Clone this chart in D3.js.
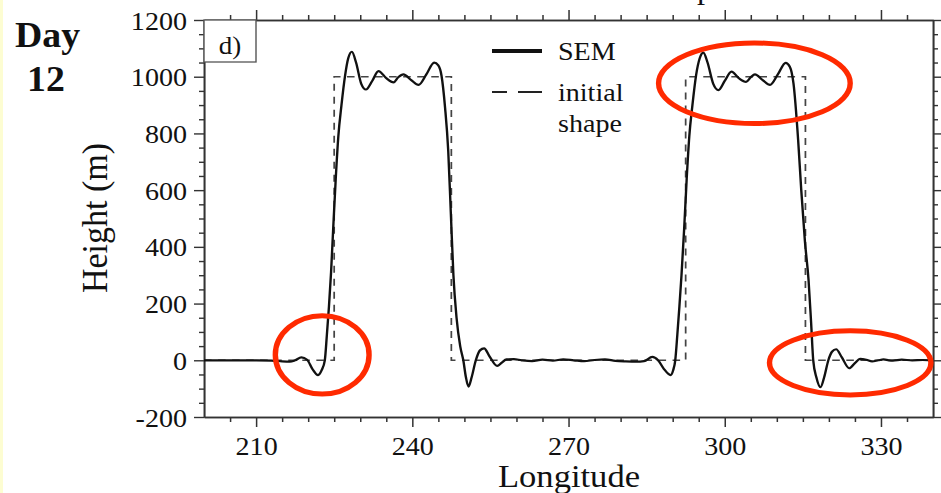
<!DOCTYPE html>
<html>
<head>
<meta charset="utf-8">
<script src="https://cdn.jsdelivr.net/npm/d3@7"></script>
<style>
  body { margin: 0; background: #fff; }
  svg { display: block; }
  svg text {
    font-family: "Liberation Serif", "DejaVu Serif", serif;
    fill: #111;
  }
</style>
</head>
<body>
<svg id="chart" width="941" height="493"></svg>
<script>
(function() {
  // SEM solution at day 12
  var semLon = [
    200, 205, 210, 213, 215, 216.5, 217.5, 218.7, 219.8, 220.8, 221.9, 222.6,
    223.2, 223.6, 224.0, 224.4, 224.8, 225.3, 225.8, 226.4, 227.1, 227.7, 228.4,
    229.2, 230.2, 231.1, 232.3, 233.5, 235.0, 236.4, 237.3, 238.3, 239.8, 241.2,
    242.7, 244.2, 245.0, 245.6, 246.3, 246.9, 247.4, 247.9, 248.5, 249.2, 249.8,
    250.3, 250.8, 251.4, 252.2, 253.0, 253.8, 254.8, 256.3, 257.2, 258.1, 259.5,
    261, 263, 265, 267, 269, 271, 273, 275, 277, 279, 281, 283, 284.5,
    286.1, 287.2, 288.3, 289.6, 290.1, 290.5, 290.9, 291.3, 291.7, 292.2, 292.7,
    293.2, 293.8, 294.5, 295.2, 295.9, 296.7, 297.8, 298.8, 300.0, 301.3, 302.7,
    304.1, 305.0, 305.8, 307.3, 308.7, 310.2, 311.7, 312.5, 313.2, 314.1, 314.7,
    315.4, 316.1, 316.6, 317.0, 317.6, 318.4, 319.1, 319.9, 320.6, 321.4, 322.5,
    323.9, 325, 326, 327.2, 328.3, 329.5, 330.5, 331.5, 332.3, 334, 336, 338, 340
  ];
  var semHeight = [
    0, 0, 0, -1, -4, -5, 0, 10, 2, -30, -52, -35,
    0, 90, 190, 310, 460, 640, 790, 900, 1005, 1065, 1088,
    1050, 975, 955, 985, 1020, 995, 980, 998, 1008, 988, 971,
    1008, 1050, 1040, 1005, 890, 740, 520, 300, 150, 50, 0,
    -60, -93, -60, 0, 35, 42, 15, -20, -8, 3, 4,
    0, -3, 2, -1, 3, 0, -3, 1, 3, -2, -4, -5, -3,
    12, 0, -30, -52, -35, 0, 90, 190, 300, 460, 640,
    790, 900, 1005, 1065, 1085, 1050, 975, 953, 985, 1018, 995,
    982, 998, 1008, 988, 971, 1008, 1049, 1035, 977, 777, 600,
    420, 283, 130, 0, -60, -95, -60, 0, 30, 39, 10,
    -28, -10, 5, 2, -4, 0, 3, 0, -1, 2, 0, 1, 0
  ];

  // initial top-hat shape
  var initLon = [200, 225, 225, 247.5, 247.5, 292.5, 292.5, 315.5, 315.5, 340];
  var initHeight = [0, 0, 1000, 1000, 0, 0, 1000, 1000, 0, 0];

  var xTicks = [210, 240, 270, 300, 330];
  var xMinor = [205, 215, 220, 225, 230, 235, 245, 250, 255, 260, 265, 275, 280,
                285, 290, 295, 305, 310, 315, 320, 325, 335];
  var yTicks = [-200, 0, 200, 400, 600, 800, 1000, 1200];
  var yMinor = [-150, -100, -50, 50, 100, 150, 250, 300, 350, 450, 500, 550, 650,
                700, 750, 850, 900, 950, 1050, 1100, 1150];

  var legendLabels = ['SEM', 'initial', 'shape'];
  var panelLabel = 'd)';
  var dayLabel = ['Day', '12'];
  var xTitle = 'Longitude';
  var yTitle = 'Height (m)';
  var titleBit = 'p';

  // red highlight rings, in data units (centre lon/height, radius lon/height)
  var rings = [
    { lon: 305.7, h: 977, rl: 18.4, rh: 142 },
    { lon: 222.7, h: 19, rl: 9.0, rh: 138 },
    { lon: 324.1, h: -9, rl: 15.5, rh: 113 }
  ];

  // the source picture is a bit stretched sideways
  const K = 1.08;
  function px(v) { return v / K; }

  var plain = function(d) { return String(d); };

  var svg = d3.select('#chart');

  svg.append('rect')
    .attr('x', 0).attr('y', 0)
    .attr('width', 3).attr('height', 493)
    .attr('fill', '#fdfdd2');

  var root = svg.append('g').attr('transform', 'scale(' + K + ',1)');

  var x = d3.scaleLinear().domain([200, 340]).range([px(204), px(933)]);
  var y = d3.scaleLinear().domain([-200, 1200]).range([417, 20]);

  function styleAxis(g) {
    g.attr('font-family', null);
    g.select('.domain').attr('stroke', '#333').attr('stroke-width', 1.5);
    g.selectAll('.tick line').attr('stroke', '#333').attr('stroke-width', 1.4);
    g.selectAll('text').attr('fill', '#111').attr('font-size', 26);
  }

  // bottom
  root.append('g').attr('transform', 'translate(0,417)')
    .call(d3.axisBottom(x).tickValues(xMinor).tickSize(5).tickSizeOuter(0).tickFormat(''))
    .call(styleAxis);
  var xb = root.append('g').attr('transform', 'translate(0,417)')
    .call(d3.axisBottom(x).tickValues(xTicks).tickSize(10).tickSizeOuter(0).tickFormat(plain))
    .call(styleAxis);
  xb.selectAll('text').attr('y', 38).attr('dy', null);

  // top
  root.append('g').attr('transform', 'translate(0,20)')
    .call(d3.axisTop(x).tickValues(xMinor).tickSize(5).tickSizeOuter(0).tickFormat(''))
    .call(styleAxis);
  root.append('g').attr('transform', 'translate(0,20)')
    .call(d3.axisTop(x).tickValues(xTicks).tickSize(10).tickSizeOuter(0).tickFormat(''))
    .call(styleAxis);

  // left
  root.append('g').attr('transform', 'translate(' + px(204) + ',0)')
    .call(d3.axisLeft(y).tickValues(yMinor).tickSize(px(5)).tickSizeOuter(0).tickFormat(''))
    .call(styleAxis);
  root.append('g').attr('transform', 'translate(' + px(204) + ',0)')
    .call(d3.axisLeft(y).tickValues(yTicks).tickSize(px(10)).tickPadding(px(7))
      .tickSizeOuter(0).tickFormat(plain))
    .call(styleAxis)
    .selectAll('text').attr('dy', '0.35em');

  // right
  root.append('g').attr('transform', 'translate(' + px(933) + ',0)')
    .call(d3.axisRight(y).tickValues(yMinor).tickSize(px(5)).tickSizeOuter(0).tickFormat(''))
    .call(styleAxis);
  root.append('g').attr('transform', 'translate(' + px(933) + ',0)')
    .call(d3.axisRight(y).tickValues(yTicks).tickSize(px(10)).tickSizeOuter(0).tickFormat(''))
    .call(styleAxis);

  // curves
  var initPts = initLon.map(function(d, i) { return [d, initHeight[i]]; });
  var semPts = semLon.map(function(d, i) { return [d, semHeight[i]]; });

  var stepLine = d3.line()
    .x(function(d) { return x(d[0]); })
    .y(function(d) { return y(d[1]); });

  root.append('path')
    .attr('d', stepLine(initPts))
    .attr('fill', 'none')
    .attr('stroke', '#444')
    .attr('stroke-width', 1.6)
    .attr('stroke-dasharray', '7,6');

  var smoothLine = d3.line()
    .curve(d3.curveMonotoneX)
    .x(function(d) { return x(d[0]); })
    .y(function(d) { return y(d[1]); });

  root.append('path')
    .attr('d', smoothLine(semPts))
    .attr('fill', 'none')
    .attr('stroke', '#111')
    .attr('stroke-width', 2.2)
    .attr('stroke-linejoin', 'round');

  // panel tag
  root.append('rect')
    .attr('x', px(204)).attr('y', 20)
    .attr('width', px(52)).attr('height', 42)
    .attr('fill', '#fff')
    .attr('stroke', '#555')
    .attr('stroke-width', 1.3);
  root.append('text')
    .attr('x', px(230)).attr('y', 54)
    .attr('text-anchor', 'middle')
    .attr('font-size', 25)
    .text(panelLabel);

  // legend
  root.append('line')
    .attr('x1', px(492)).attr('x2', px(542))
    .attr('y1', 51).attr('y2', 51)
    .attr('stroke', '#111').attr('stroke-width', 4);
  root.append('line')
    .attr('x1', px(492)).attr('x2', px(542))
    .attr('y1', 92).attr('y2', 92)
    .attr('stroke', '#222').attr('stroke-width', 2)
    .attr('stroke-dasharray', px(15) + ',' + px(11) + ',' + px(24) + ',0');
  var legendY = [60, 101, 132];
  legendLabels.forEach(function(t, i) {
    root.append('text')
      .attr('x', px(558)).attr('y', legendY[i])
      .attr('font-size', 26)
      .text(t);
  });

  // Day 12
  root.append('text')
    .attr('x', px(15)).attr('y', 47)
    .attr('font-size', 35).attr('font-weight', 'bold')
    .text(dayLabel[0]);
  root.append('text')
    .attr('x', px(27)).attr('y', 91)
    .attr('font-size', 35).attr('font-weight', 'bold')
    .text(dayLabel[1]);

  // axis titles
  root.append('text')
    .attr('x', px(569)).attr('y', 487)
    .attr('text-anchor', 'middle')
    .attr('font-size', 32)
    .text(xTitle);
  root.append('text')
    .attr('transform', 'translate(' + px(107) + ',218) rotate(-90)')
    .attr('text-anchor', 'middle')
    .attr('font-size', 34)
    .text(yTitle);

  // what is left of the cut-off title
  root.append('text')
    .attr('x', px(697)).attr('y', -1.5)
    .attr('font-size', 30)
    .text(titleBit);

  // red rings
  root.selectAll('ellipse.ring')
    .data(rings)
    .enter().append('ellipse')
    .attr('class', 'ring')
    .attr('cx', function(d) { return x(d.lon); })
    .attr('cy', function(d) { return y(d.h); })
    .attr('rx', function(d) { return x(d.lon + d.rl) - x(d.lon); })
    .attr('ry', function(d) { return y(d.h) - y(d.h + d.rh); })
    .attr('fill', 'none')
    .attr('stroke', '#ff2a00')
    .attr('stroke-width', 5);
})();
</script>
</body>
</html>
